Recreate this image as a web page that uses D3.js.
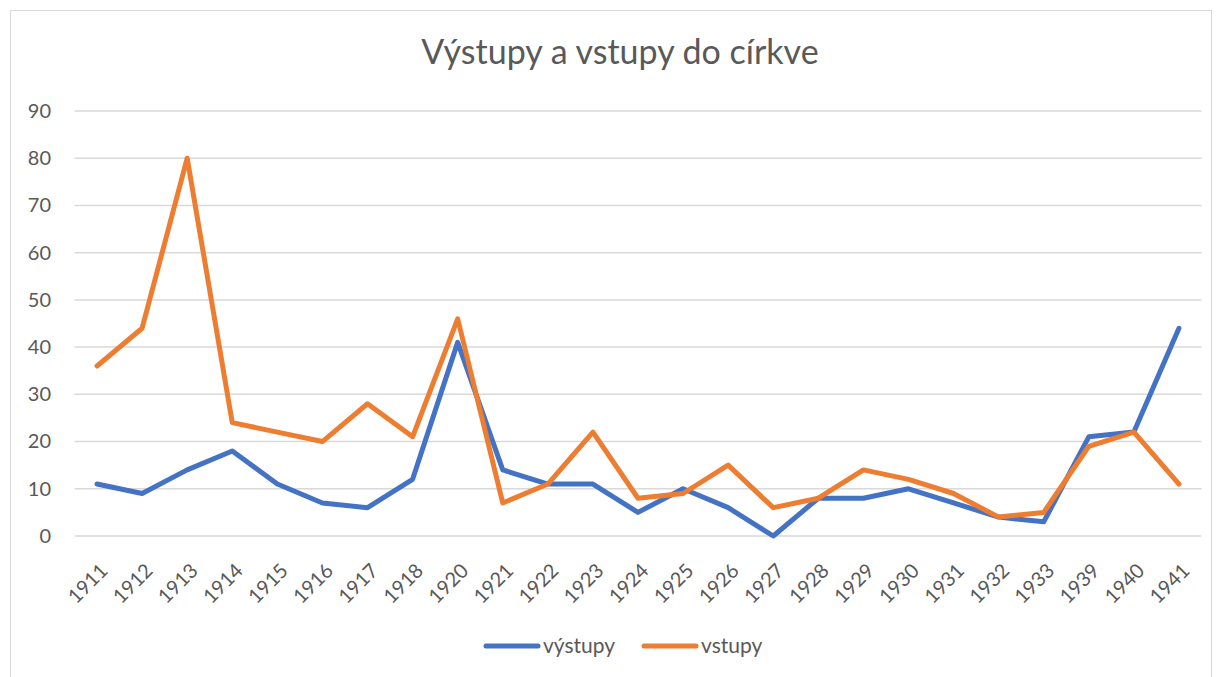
<!DOCTYPE html>
<html>
<head>
<meta charset="utf-8">
<script src="https://cdn.jsdelivr.net/npm/d3@7"></script>
<style>
  body { margin: 0; background: #fff; }
  svg { font-family: Lato, "Noto Sans", sans-serif; }
</style>
</head>
<body>
<svg id="chart" width="1220" height="677"></svg>
<script>
// chart data
const years = ['1911', '1912', '1913', '1914', '1915', '1916', '1917', '1918', '1920', '1921',
  '1922', '1923', '1924', '1925', '1926', '1927', '1928', '1929', '1930', '1931',
  '1932', '1933', '1939', '1940', '1941'];
const vystupy = [11, 9, 14, 18, 11, 7, 6, 12, 41, 14, 11, 11, 5, 10, 6, 0, 8, 8, 10, 7, 4, 3, 21, 22, 44];
const vstupy = [36, 44, 80, 24, 22, 20, 28, 21, 46, 7, 11, 22, 8, 9, 15, 6, 8, 14, 12, 9, 4, 5, 19, 22, 11];
const yTicks = [0, 10, 20, 30, 40, 50, 60, 70, 80, 90];

const seriesList = [
  { name: 'výstupy', values: vystupy, color: '#4472C4' },
  { name: 'vstupy', values: vstupy, color: '#ED7D31' },
];

const svg = d3.select('#chart');
const textColor = '#595959';

// outer chart frame
svg.append('rect')
  .attr('x', 10.5).attr('y', 10.5)
  .attr('width', 1201).attr('height', 680)
  .attr('fill', 'none')
  .attr('stroke', '#d9d9d9');

svg.append('text')
  .attr('x', 620).attr('y', 64)
  .attr('text-anchor', 'middle')
  .attr('font-size', 34)
  .attr('fill', textColor)
  .text('Výstupy a vstupy do církve');

const x = d3.scaleBand().domain(years).range([74.5, 1201.5]);
const y = d3.scaleLinear().domain([0, 90]).range([536, 111]);

// gridlines
svg.append('g')
  .selectAll('line')
  .data(yTicks)
  .join('line')
  .attr('x1', 74.5).attr('x2', 1201.5)
  .attr('y1', (d) => y(d)).attr('y2', (d) => y(d))
  .attr('stroke', '#d9d9d9')
  .attr('stroke-width', 1.5);

// y axis labels
const yAxis = svg.append('g')
  .attr('transform', 'translate(51,0)')
  .call(d3.axisLeft(y).tickValues(yTicks).tickSize(0).tickPadding(0));
yAxis.select('.domain').remove();
yAxis.selectAll('text')
  .attr('font-size', 20)
  .attr('font-family', 'Lato, "Noto Sans", sans-serif')
  .attr('fill', textColor);

// x axis labels, rotated
const xAxis = svg.append('g')
  .attr('transform', 'translate(0,536)')
  .call(d3.axisBottom(x).tickSize(0).tickPadding(0));
xAxis.select('.domain').remove();
xAxis.selectAll('text')
  .attr('font-size', 20)
  .attr('font-family', 'Lato, "Noto Sans", sans-serif')
  .attr('fill', textColor)
  .attr('text-anchor', 'end')
  .attr('y', 0)
  .attr('dy', '0.35em')
  .attr('transform', 'translate(7,31) rotate(-45)');

const line = d3.line()
  .x((d, i) => x(years[i]) + x.bandwidth() / 2)
  .y((d) => y(d));

svg.append('g')
  .selectAll('path')
  .data(seriesList)
  .join('path')
  .attr('d', (d) => line(d.values))
  .attr('fill', 'none')
  .attr('stroke', (d) => d.color)
  .attr('stroke-width', 5)
  .attr('stroke-linejoin', 'round')
  .attr('stroke-linecap', 'round');

// legend
const legendX = [486, 644];
const legend = svg.append('g')
  .selectAll('g')
  .data(seriesList)
  .join('g')
  .attr('transform', (d, i) => `translate(${legendX[i]},646)`);
legend.append('line')
  .attr('x1', 0).attr('x2', 52)
  .attr('stroke', (d) => d.color)
  .attr('stroke-width', 5)
  .attr('stroke-linecap', 'round');
legend.append('text')
  .attr('x', 57)
  .attr('dy', '0.35em')
  .attr('font-size', 21)
  .attr('fill', textColor)
  .text((d) => d.name);
</script>
</body>
</html>
